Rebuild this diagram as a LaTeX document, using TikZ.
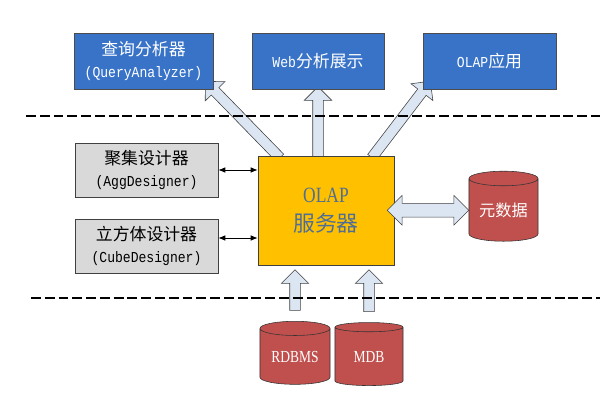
\documentclass[tikz,border=0pt]{standalone}
\usepackage{fontspec}
\setmainfont{Noto Sans CJK SC}
\newfontfamily\monolatin[FakeStretch=0.86]{Liberation Mono}
\newfontfamily\narrowserif[FakeStretch=0.8]{Liberation Serif}
\usetikzlibrary{positioning, arrows.meta, shapes.geometric, shapes.arrows, calc, backgrounds}
\definecolor{toolBlue}{HTML}{3873C8}
\definecolor{designGray}{HTML}{D9D9D9}
\definecolor{serverGold}{HTML}{FFC000}
\definecolor{serverText}{HTML}{4F6E96}
\definecolor{storeRed}{HTML}{C0504D}
\definecolor{flowFill}{HTML}{DCE6F2}
\newcommand\engname[1]{{\monolatin\fontsize{10.8}{15.5}\selectfont #1}}
\newcommand\fatlink[3][]{\path let \p1=($(#3)-(#2)$), \n1={veclen(\x1,\y1)} in
  (#2) -- node[fatarr, #1, minimum height=\n1, sloped, allow upside down] {} (#3);}

\begin{document}
\begin{tikzpicture}[x=0.025cm, y=-0.025cm,
    tool/.style={draw=black!70, fill=toolBlue, text=white, minimum height=1.4cm, inner sep=0pt, align=center, font=\fontsize{12}{15.5}\selectfont},
    designer/.style={draw=black!75, fill=designGray, minimum width=3.575cm, minimum height=1.35cm, inner sep=0pt, align=center, font=\fontsize{12}{15.5}\selectfont},
    server/.style={draw=black!75, fill=serverGold, text=serverText, minimum width=3.4cm, minimum height=2.725cm, align=center, font=\fontsize{15.5}{21}\selectfont},
    store/.style={cylinder, shape border rotate=90, aspect=0.3, draw=black!80, fill=storeRed, text=white, inner sep=0pt},
    fatarr/.style={single arrow, draw=black!75, fill=flowFill, inner xsep=0pt, inner ysep=0.125cm, single arrow head extend=0.2125cm},
    thinarr/.style={{Latex[length=5pt,width=4pt]}-{Latex[length=5pt,width=4pt]}, semithick},
    sepline/.style={line width=1.4pt, dash pattern=on 7pt off 2.8pt},
  ]
    \useasboundingbox (0,0) rectangle (600,400);

    \node[tool, minimum width=3.475cm] (qa)  at (143.5,61) {查询分析器\\\engname{(QueryAnalyzer)}};
    \node[tool, minimum width=3.3cm]   (web) at (318,61)   {\engname{Web}分析展示};
    \node[tool, minimum width=3.325cm] (app) at (489.5,61) {\engname{OLAP}应用};

    \node[designer] (agg)  at (146.5,170) {聚集设计器\\\engname{(AggDesigner)}};
    \node[designer] (cube) at (146.5,246) {立方体设计器\\\engname{(CubeDesigner)}};

    \node[server] (olap) at (326,210.5) {{\narrowserif OLAP}\\服务器};

    \node[store, minimum width=1.725cm, minimum height=1.75cm, font=\fontsize{11.5}{12}\selectfont] (meta) at (503.5,210) {元数据};
    \node[store, minimum width=1.75cm, minimum height=1.575cm, font=\narrowserif\fontsize{12}{12}\selectfont] (rdbms) at (295,356.5) {RDBMS};
    \node[store, minimum width=1.7cm, minimum height=1.575cm, font=\narrowserif\fontsize{12}{12}\selectfont] (mdb) at (369,356.5) {MDB};

    \draw[sepline] (26,116) -- (600,116);
    \draw[sepline] (31,298) -- (600,298);

    \begin{scope}[on background layer]
      \coordinate (qaTip)  at ($(qa.south east)+(-6,-6)$);
      \coordinate (qaTail) at ($(olap.north west)+(24,4)$);
      \coordinate (webTail) at ($(olap.north -| web.south)+(0,4)$);
      \coordinate (appTip)  at ($(app.south west)+(6,-6)$);
      \coordinate (appTail) at ($(olap.north east)+(-24,4)$);
      \fatlink{qaTail}{qaTip}
      \fatlink{webTail}{web.south}
      \fatlink{appTail}{appTip}
      \coordinate (rdbmsTail) at ($(rdbms.north)+(0,-8)$);
      \coordinate (rdbmsTip)  at ($(rdbms.north |- olap.south)+(0,7)$);
      \coordinate (mdbTail) at ($(mdb.north)+(0,-8)$);
      \coordinate (mdbTip)  at ($(mdb.north |- olap.south)+(0,7)$);
      \fatlink{rdbmsTail}{rdbmsTip}
      \fatlink{mdbTail}{mdbTip}
    \end{scope}

    \coordinate (metaEnd) at ($(olap.east)+(-7,0)$);
    \path let \p1=($(meta.west)-(metaEnd)$), \n1={veclen(\x1,\y1)} in
      (metaEnd) -- node[fatarr, double arrow, inner ysep=0.1625cm, double arrow head extend=0.2cm, minimum height=\n1] (metaLink) {} (meta.west);

    \draw[thinarr] (agg.east) -- (agg.east -| olap.west);
    \draw[thinarr] ($(cube.east)+(0,-8)$) -- ($(cube.east -| olap.west)+(0,-8)$);
  \end{tikzpicture}
\end{document}
